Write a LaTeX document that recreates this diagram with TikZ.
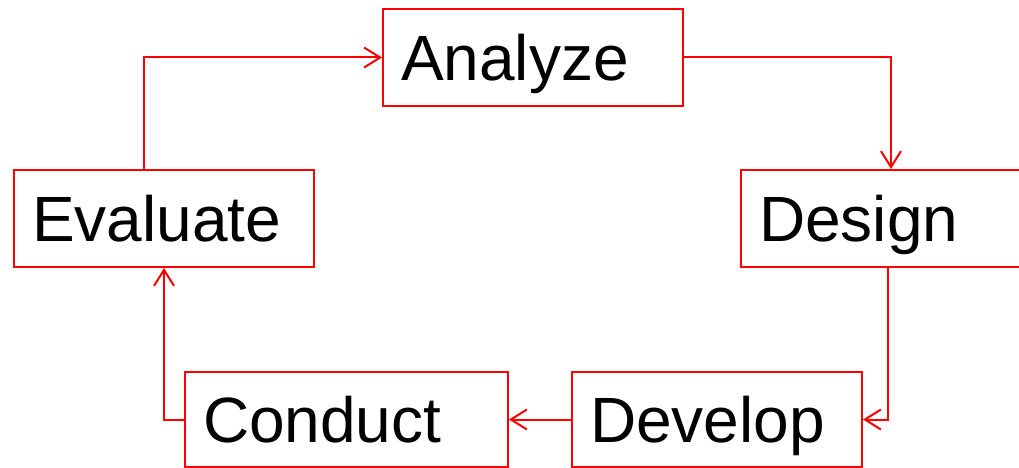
\documentclass[tikz,border=0pt]{standalone}
\usepackage{fontspec}
\setmainfont{Liberation Sans}
\usetikzlibrary{arrows.meta}
\begin{document}
\begin{tikzpicture}[x=1pt,y=-1pt,
  box/.style={draw=red, line width=2pt, fill=white, anchor=north west,
    inner xsep=18pt, inner ysep=0pt, minimum height=97pt, align=left,
    font=\fontsize{64}{70}\selectfont, text height=46pt, text depth=0pt},
  arr/.style={draw=red, line width=2pt, -{Straight Barb[length=16pt,width=20pt,line width=2pt]}}]
\useasboundingbox (0,0) rectangle (1019,468);
\clip (0,0) rectangle (1019,468);
\node[box, text width=264pt] (an) at (382,8) {Analyze};
\node[box, text width=264pt] (ev) at (13,169) {Evaluate};
\node[box, text width=264pt] (de) at (740,169) {Design};
\node[box, text width=287pt, minimum height=95pt] (co) at (184,371) {Conduct};
\node[box, text width=254pt, minimum height=95pt] (dv) at (571,371) {Develop};
\draw[arr] ([xshift=-20pt]ev.north) |- (an.west);
\draw[arr] (an.east) -| (de.north);
\draw[arr] ([xshift=-3pt]de.south) |- (dv.east);
\draw[arr] (dv.west) -- (co.east);
\draw[arr] (co.west) -| (ev.south);
\end{tikzpicture}
\end{document}
